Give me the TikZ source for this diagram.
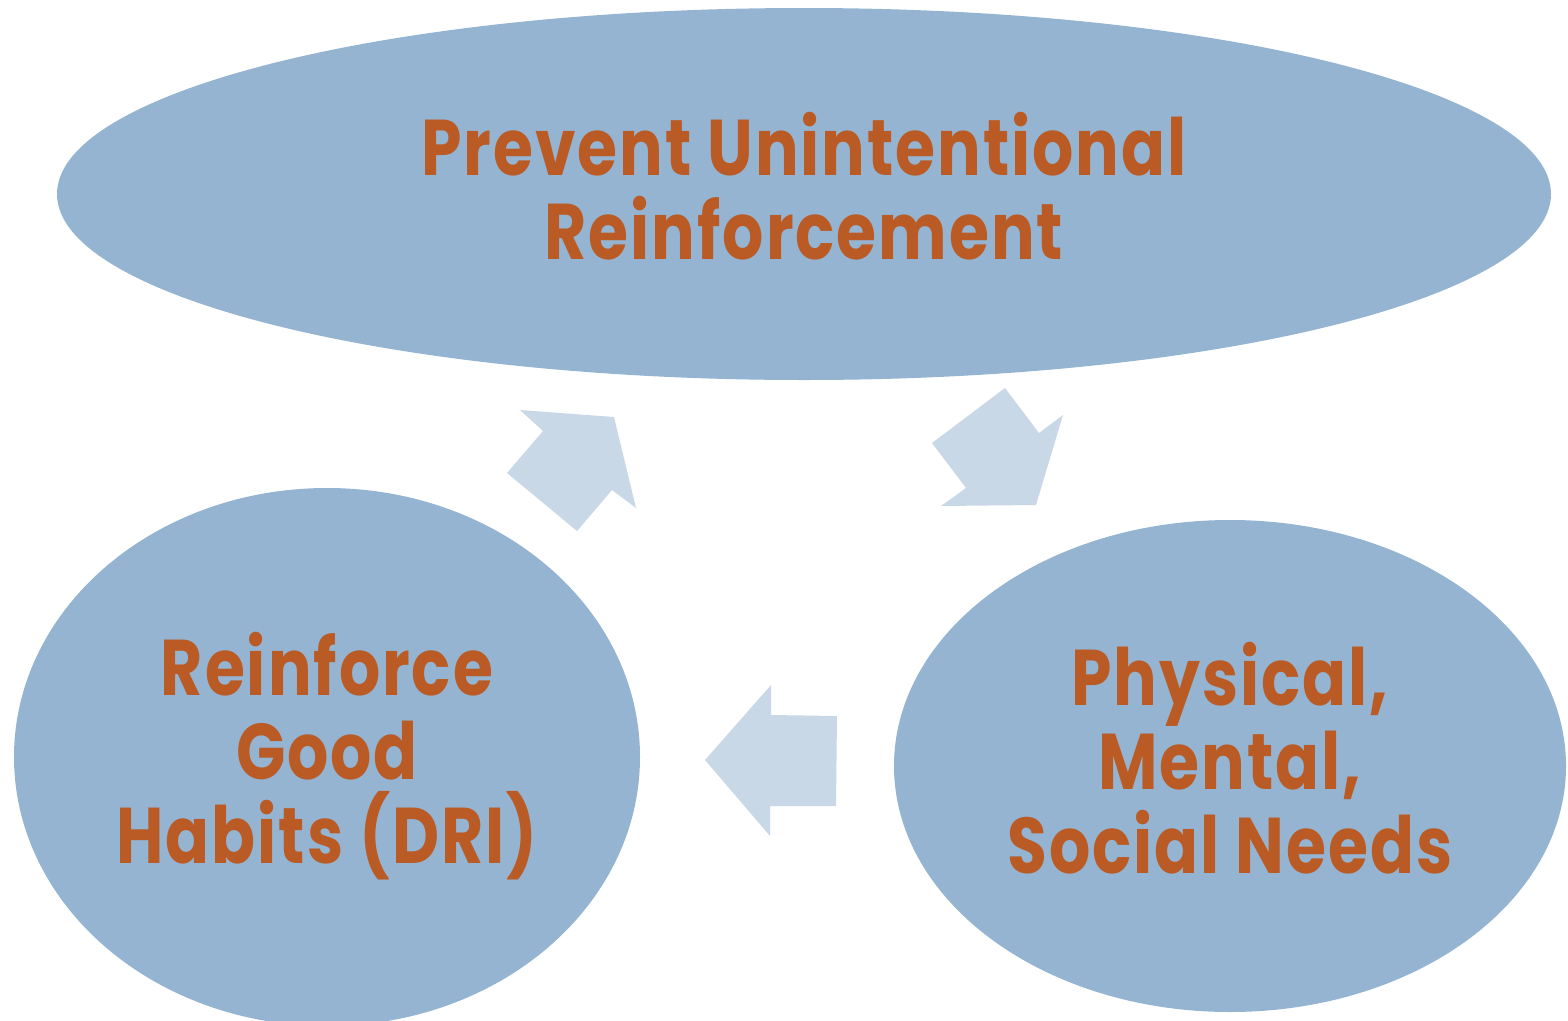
\documentclass[tikz,border=0pt]{standalone}
\usepackage{fontspec}
\setmainfont{Poppins}[FakeStretch=0.82,LetterSpace=2.5]
\usetikzlibrary{shapes.geometric}
\definecolor{ellfill}{HTML}{95B4D1}
\definecolor{arrfill}{HTML}{C8D8E6}
\definecolor{txt}{HTML}{BA5B25}
\tikzset{
  bubble/.style={ellipse, fill=ellfill, inner sep=0pt, outer sep=0pt},
  bubbletext/.style={text=txt, align=center, inner sep=0pt,
    font=\fontsize{79}{84}\selectfont\bfseries},
  blockarrow/.style={fill=arrfill, draw=none}
}
\begin{document}
\begin{tikzpicture}[x=1pt,y=-1pt]
\useasboundingbox (0,0) rectangle (1568,1020);
\clip (0,0) rectangle (1568,1020);
\node[bubble, minimum width=1494pt, minimum height=372pt] (top) at (804,194) {};
\node[bubble, minimum width=626pt, minimum height=538pt] (left) at (327,757) {};
\node[bubble, minimum width=672pt, minimum height=492pt] (right) at (1230,766) {};
\node[bubbletext] (toptext) at ([yshift=8pt]top.center)
  {Prevent Unintentional\\Reinforcement};
\node[bubbletext] (lefttext) at ([yshift=1pt]left.center)
  {Reinforce\\Good\\Habits (DRI)};
\node[bubbletext] (righttext) at ([yshift=8pt]right.center)
  {Physical,\\Mental,\\Social Needs};
% block arrows
\fill[blockarrow] (520,410) -- (614,417) -- (636,508) -- (612,490) -- (577,531)
  -- (507,473) -- (543,431) -- cycle;
\fill[blockarrow] (1005,388) -- (1039,433) -- (1063,415) -- (1036,505)
  -- (941,506) -- (966,488) -- (932,443) -- cycle;
\fill[blockarrow] (837,716) -- (771,715) -- (771,685) -- (705,760)
  -- (770,836) -- (770,806) -- (836,806) -- cycle;
\end{tikzpicture}
\end{document}
